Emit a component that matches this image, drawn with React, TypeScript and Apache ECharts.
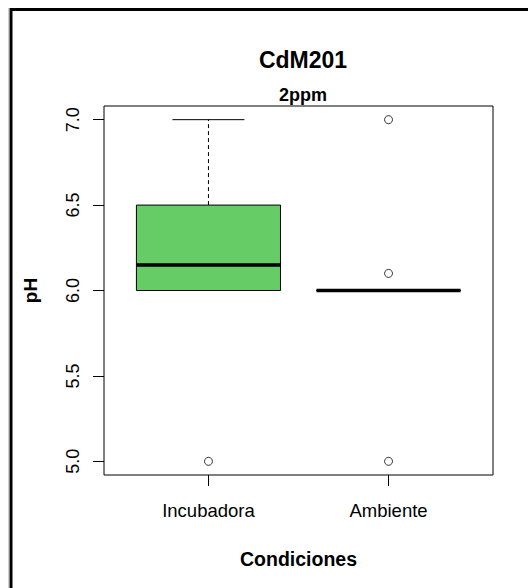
import React, { useEffect, useRef } from "react";
import * as echarts from "echarts";

const categories = ["Incubadora", "Ambiente"];
const whiskerLow = [6.0, 6.0];
const q1 = [6.0, 6.0];
const median = [6.15, 6.0];
const q3 = [6.5, 6.0];
const whiskerHigh = [7.0, 6.0];
const boxColors = ["#66CC66", "#FFFFFF"];
const outlierGroup = [0, 1, 1, 1];
const outlierValues = [5.0, 5.0, 6.1, 7.0];
const yTicks = [5.0, 5.5, 6.0, 6.5, 7.0];
const titleText = "CdM201";
const subtitleText = "2ppm";
const xName = "Condiciones";
const yName = "pH";

const FONT = "'Liberation Sans', Arial, sans-serif";

export default function App() {
  const ref = useRef<HTMLDivElement>(null);
  useEffect(() => {
    if (!ref.current) return;
    const chart = echarts.init(ref.current, null, { renderer: "svg" });
    const boxData = categories.map((_, i) => [
      i + 1,
      whiskerLow[i],
      q1[i],
      median[i],
      q3[i],
      whiskerHigh[i],
      i,
    ]);
    const outlierData = outlierValues.map((v, i) => [outlierGroup[i] + 1, v]);
    const option: any = {
      animation: false,
      backgroundColor: "#ffffff",
      textStyle: { fontFamily: FONT },
      title: [
        {
          text: titleText,
          left: 298,
          top: 43,
          textAlign: "center",
          textStyle: { fontFamily: FONT, fontSize: 23, fontWeight: "bold", color: "#000" },
        },
        {
          text: subtitleText,
          left: 298,
          top: 81,
          textAlign: "center",
          textStyle: { fontFamily: FONT, fontSize: 18, fontWeight: "bold", color: "#000" },
        },
      ],
      grid: {
        left: 104,
        top: 106,
        right: 35,
        bottom: 113,
        show: true,
        borderColor: "#000",
        borderWidth: 1,
        backgroundColor: "transparent",
      },
      xAxis: {
        type: "value",
        min: 0.42,
        max: 2.58,
        name: xName,
        nameLocation: "middle",
        nameGap: 74,
        nameTextStyle: { fontFamily: FONT, fontSize: 19.5, fontWeight: "bold", color: "#000" },
        axisLine: { show: false },
        splitLine: { show: false },
        axisTick: {
          show: true,
          inside: false,
          length: 11,
          customValues: [1, 2],
          lineStyle: { color: "#000", width: 1 },
        },
        axisLabel: {
          customValues: [1, 2],
          margin: 26,
          fontFamily: FONT,
          fontSize: 18.5,
          color: "#000",
          formatter: (v: number) => categories[Math.round(v) - 1] ?? "",
        },
      },
      yAxis: {
        type: "value",
        min: 4.92,
        max: 7.08,
        name: yName,
        nameLocation: "middle",
        nameGap: 64,
        nameRotate: 90,
        nameTextStyle: { fontFamily: FONT, fontSize: 19, fontWeight: "bold", color: "#000" },
        axisLine: { show: false },
        splitLine: { show: false },
        axisTick: {
          show: true,
          inside: false,
          length: 11,
          customValues: yTicks,
          lineStyle: { color: "#000", width: 1 },
        },
        axisLabel: {
          customValues: yTicks,
          rotate: 90,
          margin: 22,
          fontFamily: FONT,
          fontSize: 18,
          color: "#000",
          formatter: (v: number) => v.toFixed(1),
        },
      },
      graphic: [
        {
          type: "line",
          shape: { x1: 8.5, y1: 8, x2: 8.5, y2: 600 },
          style: { stroke: "#d0d0d0", lineWidth: 1 },
          silent: true,
        },
        {
          type: "rect",
          shape: { x: 11, y: 9.5, width: 700, height: 700 },
          style: { fill: "none", stroke: "#000", lineWidth: 3 },
          silent: true,
        },
      ],
      series: [
        {
          type: "custom",
          data: boxData,
          encode: { x: 0, y: [1, 2, 3, 4, 5] },
          renderItem: (params: any, api: any) => {
            const x = api.value(0);
            const lo = api.coord([x, api.value(1)]);
            const b1 = api.coord([x, api.value(2)]);
            const md = api.coord([x, api.value(3)]);
            const b3 = api.coord([x, api.value(4)]);
            const hi = api.coord([x, api.value(5)]);
            const idx = api.value(6);
            const w = api.size([0.8, 0])[0];
            const cw = w / 2;
            const cx = lo[0];
            const black = { stroke: "#000", lineWidth: 1 };
            return {
              type: "group",
              children: [
                {
                  type: "line",
                  shape: { x1: cx, y1: b3[1], x2: cx, y2: hi[1] },
                  style: { ...black, lineDash: [4, 3] },
                },
                {
                  type: "line",
                  shape: { x1: cx, y1: b1[1], x2: cx, y2: lo[1] },
                  style: { ...black, lineDash: [4, 3] },
                },
                {
                  type: "line",
                  shape: { x1: cx - cw / 2, y1: hi[1], x2: cx + cw / 2, y2: hi[1] },
                  style: black,
                },
                {
                  type: "line",
                  shape: { x1: cx - cw / 2, y1: lo[1], x2: cx + cw / 2, y2: lo[1] },
                  style: black,
                },
                {
                  type: "rect",
                  shape: { x: cx - w / 2, y: b3[1], width: w, height: b1[1] - b3[1] },
                  style: { fill: boxColors[idx], stroke: "#000", lineWidth: 1 },
                },
                {
                  type: "line",
                  shape: { x1: cx - w / 2, y1: md[1], x2: cx + w / 2, y2: md[1] },
                  style: { stroke: "#000", lineWidth: 3.5 },
                },
              ],
            };
          },
          z: 2,
        },
        {
          type: "scatter",
          data: outlierData,
          symbol: "circle",
          symbolSize: 8,
          itemStyle: { color: "#fff", borderColor: "#000", borderWidth: 1 },
          z: 3,
        },
      ],
    };
    chart.setOption(option);
    return () => chart.dispose();
  }, []);
  return (
    <div
      ref={ref}
      style={{ position: "fixed", left: 0, top: 0, width: 528, height: 588, background: "#fff" }}
    />
  );
}
